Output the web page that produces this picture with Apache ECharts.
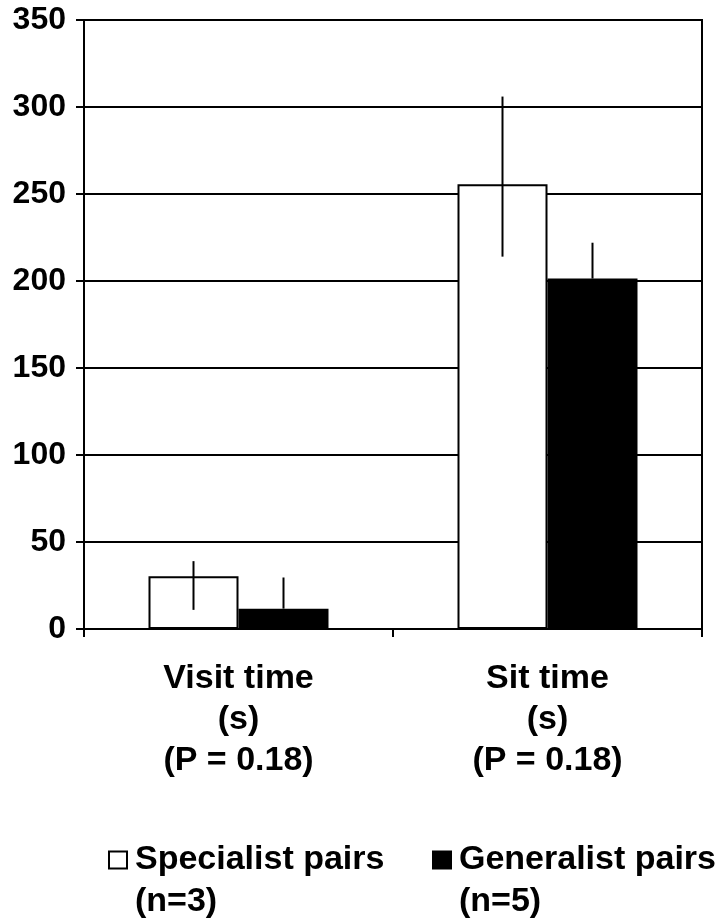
<!DOCTYPE html>
<html>
<head>
<meta charset="utf-8">
<script src="https://cdn.jsdelivr.net/npm/echarts@6/dist/echarts.min.js"></script>
<style>
  html, body { margin: 0; padding: 0; background: #fff; }
  #chart { width: 721px; height: 922px; }
</style>
</head>
<body>
<div id="chart"></div>
<script>
var categories = ['Visit time', 'Sit time'];
var units = ['(s)', '(s)'];
var pValues = ['(P = 0.18)', '(P = 0.18)'];

var groupNames = ['Specialist pairs', 'Generalist pairs'];
var groupN = [3, 5];

var specialistMeans = [30.3, 255.6];
var generalistMeans = [11.7, 201.4];

// error bar ends (lower, upper)
var specialistLow = [11, 214];
var specialistHigh = [39, 306];
var generalistLow = [11.7, 201.4];
var generalistHigh = [29.6, 222];

var yTicks = [0, 50, 100, 150, 200, 250, 300, 350];

var FONT = "'Liberation Sans', Arial, sans-serif";
var BAR_W = 90;
var legendLeft = [108, 432];

var chart = echarts.init(document.getElementById('chart'));

function errorSeries(name, low, high, offset) {
  var data = low.map(function (v, i) { return [i, v, high[i]]; });
  return {
    name: name + ' err',
    type: 'custom',
    z: 5,
    data: data,
    renderItem: function (params, api) {
      var p1 = api.coord([api.value(0), api.value(1)]);
      var p2 = api.coord([api.value(0), api.value(2)]);
      return {
        type: 'line',
        shape: { x1: p1[0] + offset, y1: p1[1], x2: p2[0] + offset, y2: p2[1] },
        style: { stroke: '#000', lineWidth: 2 }
      };
    }
  };
}

var legends = groupNames.map(function (name, i) {
  return {
    data: [name],
    left: legendLeft[i], top: 843,
    padding: 0,
    icon: 'rect',
    itemWidth: 18, itemHeight: 17,
    textStyle: { fontSize: 34, fontWeight: 'bold', color: '#000', fontFamily: FONT, padding: [0, 0, 0, 3] }
  };
});

var nLabels = groupN.map(function (n, i) {
  return {
    type: 'text', left: legendLeft[i] + 27, top: 885,
    style: { text: '(n=' + n + ')', font: 'bold 34px ' + FONT, fill: '#000' }
  };
});

chart.setOption({
  animation: false,
  backgroundColor: '#fff',
  textStyle: { fontFamily: FONT },
  grid: {
    left: 84, right: 19, top: 20, bottom: 293,
    show: true, borderColor: '#000', borderWidth: 2
  },
  legend: legends,
  xAxis: {
    type: 'category',
    data: categories,
    axisLine: { lineStyle: { color: '#000', width: 2 } },
    axisTick: { show: true, length: 8, lineStyle: { color: '#000', width: 2 } },
    axisLabel: {
      margin: 29,
      fontSize: 34, fontWeight: 'bold', color: '#000', fontFamily: FONT,
      lineHeight: 41,
      formatter: function (v, i) { return v + '\n' + units[i] + '\n' + pValues[i]; }
    }
  },
  yAxis: {
    type: 'value',
    min: yTicks[0], max: yTicks[yTicks.length - 1], interval: 50,
    axisLine: { show: true, lineStyle: { color: '#000', width: 2 } },
    axisTick: { show: true, length: 8, lineStyle: { color: '#000', width: 2 } },
    axisLabel: { margin: 18, fontSize: 32, fontWeight: 'bold', color: '#000', fontFamily: FONT },
    splitLine: { show: true, lineStyle: { color: '#000', width: 2 } }
  },
  series: [
    {
      name: groupNames[0], type: 'bar', barWidth: BAR_W, barGap: '0%',
      data: specialistMeans,
      itemStyle: { color: '#fff', borderColor: '#000', borderWidth: 2 }
    },
    {
      name: groupNames[1], type: 'bar', barWidth: BAR_W, barGap: '0%',
      data: generalistMeans,
      itemStyle: { color: '#000', borderColor: '#000', borderWidth: 2 }
    },
    errorSeries(groupNames[0], specialistLow, specialistHigh, -BAR_W / 2),
    errorSeries(groupNames[1], generalistLow, generalistHigh, BAR_W / 2)
  ],
  graphic: nLabels
});
</script>
</body>
</html>
